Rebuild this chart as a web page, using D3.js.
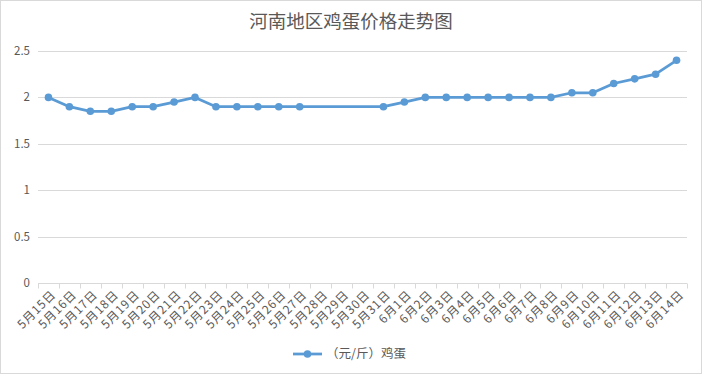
<!DOCTYPE html>
<html>
<head>
<meta charset="utf-8">
<script src="https://cdn.jsdelivr.net/npm/d3@7"></script>
<style>
  body { margin: 0; background: #fff; }
  text { font-family: "Microsoft YaHei", "Noto Sans CJK SC", sans-serif; fill: #595959; }
</style>
</head>
<body>
<div id="chart"></div>
<script>
// Chart data
const dates = ["5月15日","5月16日","5月17日","5月18日","5月19日","5月20日","5月21日","5月22日",
    "5月23日","5月24日","5月25日","5月26日","5月27日","5月28日","5月29日","5月30日","5月31日",
    "6月1日","6月2日","6月3日","6月4日","6月5日","6月6日","6月7日","6月8日","6月9日","6月10日",
    "6月11日","6月12日","6月13日","6月14日"];
const prices = [2.0, 1.9, 1.85, 1.85, 1.9, 1.9, 1.95, 2.0,
    1.9, 1.9, 1.9, 1.9, 1.9, null, null, null, 1.9,
    1.95, 2.0, 2.0, 2.0, 2.0, 2.0, 2.0, 2.0, 2.05, 2.05,
    2.15, 2.2, 2.25, 2.4];
const yTicks = [0, 0.5, 1, 1.5, 2, 2.5];
const seriesName = "（元/斤）鸡蛋";
const title = "河南地区鸡蛋价格走势图";

const W = 702, H = 374;
const margin = { top: 51, right: 15, bottom: 91, left: 38 };
const color = "#5B9BD5";

const svg = d3.select("#chart").append("svg")
    .attr("width", W)
    .attr("height", H);

// Outer chart border
svg.append("rect")
    .attr("x", 0.5).attr("y", 0.5)
    .attr("width", W - 1).attr("height", H - 1)
    .style("fill", "#fff")
    .style("stroke", "#d9d9d9");

svg.append("text")
    .attr("x", W / 2)
    .attr("y", 28)
    .attr("text-anchor", "middle")
    .style("font-size", "18.5px")
    .text(title);

const x = d3.scaleBand()
    .domain(dates)
    .range([margin.left, W - margin.right]);

const y = d3.scaleLinear()
    .domain([0, 2.5])
    .range([H - margin.bottom, margin.top]);

// Gridlines
svg.append("g")
    .selectAll("line")
    .data(yTicks.filter(d => d > 0))
    .join("line")
    .attr("x1", margin.left)
    .attr("x2", W - margin.right)
    .attr("y1", d => Math.round(y(d)) + 0.5)
    .attr("y2", d => Math.round(y(d)) + 0.5)
    .style("stroke", "#d9d9d9");

// Y axis labels
svg.append("g")
    .selectAll("text")
    .data(yTicks)
    .join("text")
    .attr("x", 30)
    .attr("y", d => y(d))
    .attr("dy", "0.35em")
    .attr("text-anchor", "end")
    .style("font-size", "11.5px")
    .text(d => d);

// X axis line and ticks at band boundaries
const x0 = Math.round(y(0)) + 0.5;
svg.append("line")
    .attr("x1", margin.left).attr("x2", W - margin.right)
    .attr("y1", x0).attr("y2", x0)
    .style("stroke", "#d9d9d9");

const bounds = dates.map(d => x(d)).concat([x(dates[dates.length - 1]) + x.bandwidth()]);
svg.append("g")
    .selectAll("line")
    .data(bounds)
    .join("line")
    .attr("x1", d => Math.round(d) + 0.5)
    .attr("x2", d => Math.round(d) + 0.5)
    .attr("y1", x0)
    .attr("y2", x0 + 5)
    .style("stroke", "#d9d9d9");

// Rotated category labels
svg.append("g")
    .selectAll("text")
    .data(dates)
    .join("text")
    .attr("text-anchor", "end")
    .attr("transform", d => `translate(${x(d) + x.bandwidth() / 2 + 5},${x0 + 9}) rotate(-45)`)
    .attr("dy", "0.35em")
    .style("font-size", "12px")
    .style("letter-spacing", "0.8px")
    .text(d => d);

// Line (gaps connected)
const pts = dates.map((d, i) => ({ d, v: prices[i] })).filter(p => p.v !== null);
const line = d3.line()
    .x(p => x(p.d) + x.bandwidth() / 2)
    .y(p => y(p.v));

svg.append("path")
    .datum(pts)
    .attr("d", line)
    .style("fill", "none")
    .style("stroke", color)
    .style("stroke-width", "2.75px")
    .style("stroke-linejoin", "round");

svg.append("g")
    .selectAll("circle")
    .data(pts)
    .join("circle")
    .attr("cx", p => x(p.d) + x.bandwidth() / 2)
    .attr("cy", p => y(p.v))
    .attr("r", 3.8)
    .style("fill", color);

// Legend
const lg = svg.append("g").attr("transform", "translate(293,354)");
lg.append("line")
    .attr("x1", 0).attr("x2", 29)
    .style("stroke", color)
    .style("stroke-width", "2.75px");
lg.append("circle")
    .attr("cx", 14.5).attr("r", 3.8)
    .style("fill", color);
lg.append("text")
    .attr("x", 33)
    .attr("dy", "0.35em")
    .style("font-size", "12.5px")
    .text(seriesName);
</script>
</body>
</html>
